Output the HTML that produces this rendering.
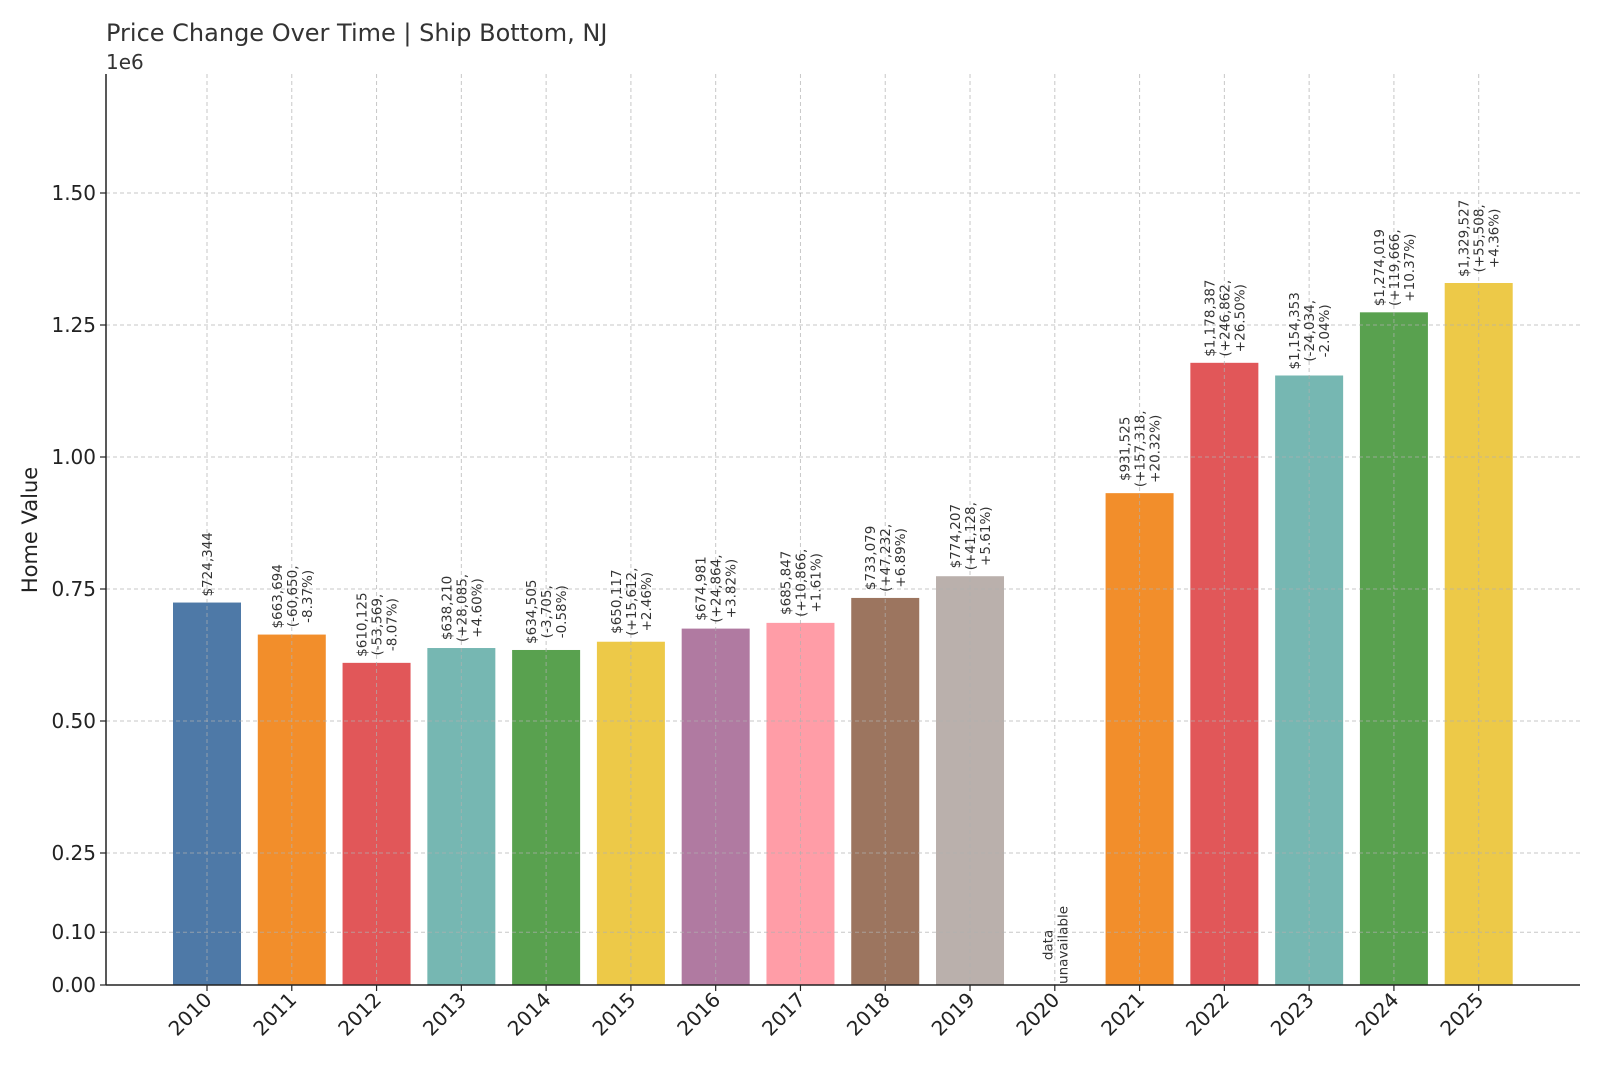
<!DOCTYPE html>
<html><head><meta charset="utf-8"><style>body{margin:0;background:#fff}svg{display:block;font-family:"DejaVu Sans","Liberation Sans",sans-serif}</style></head>
<body>
<svg id="chart" width="1600" height="1067" xmlns="http://www.w3.org/2000/svg">
<text x="106" y="41" font-size="24" fill="#333">Price Change Over Time | Ship Bottom, NJ</text>
<text x="106" y="69" font-size="20" fill="#333">1e6</text>
<text transform="translate(37,530) rotate(-90)" text-anchor="middle" font-size="21" fill="#222">Home Value</text>
<g id="bars"></g><g id="grid"></g><g id="labels"></g><g id="axes"></g>
</svg>
<script>
const years=["2010","2011","2012","2013","2014","2015","2016","2017","2018","2019","2020","2021","2022","2023","2024","2025"];
const values=[724344,663694,610125,638210,634505,650117,674981,685847,733079,774207,null,931525,1178387,1154353,1274019,1329527];
const changes=["","(-60,650,","(-53,569,","(+28,085,","(-3,705,","(+15,612,","(+24,864,","(+10,866,","(+47,232,","(+41,128,","","(+157,318,","(+246,862,","(-24,034,","(+119,666,","(+55,508,"];
const pcts=["","-8.37%)","-8.07%)","+4.60%)","-0.58%)","+2.46%)","+3.82%)","+1.61%)","+6.89%)","+5.61%)","","+20.32%)","+26.50%)","-2.04%)","+10.37%)","+4.36%)"];
const yTicks=[0,0.1,0.25,0.5,0.75,1.0,1.25,1.5];
const yTickLabels=["0.00","0.10","0.25","0.50","0.75","1.00","1.25","1.50"];
const colors=["#4e79a7","#f28e2b","#e15759","#76b7b2","#59a14f","#edc948","#b07aa1","#ff9da7","#9c755f","#bab0ac"];
const NS="http://www.w3.org/2000/svg";
const L=106,R=1580,T=74,B=985;
const yS=v=>B-v/1e6*528;
const xS=i=>207+i*84.78;
const bw=68;
function mk(tag,attrs,parent){const e=document.createElementNS(NS,tag);for(const k in attrs)e.setAttribute(k,attrs[k]);parent.appendChild(e);return e;}
const gB=document.getElementById('bars'),gG=document.getElementById('grid'),gL=document.getElementById('labels'),gA=document.getElementById('axes');
values.forEach((v,i)=>{
 if(v===null)return;
 const r=mk('rect',{x:xS(i)-bw/2,y:yS(v),width:bw,height:B-yS(v),fill:colors[i%10]},gB);
 
 
});
years.forEach((y,i)=>{
 const l=mk('line',{x1:xS(i),x2:xS(i),y1:T,y2:B,stroke:"#b0b0b0","stroke-width":1,"stroke-dasharray":"4,3",opacity:0.7},gG);
 
 
});
yTicks.forEach((t,i)=>{
 const l=mk('line',{x1:L,x2:R,y1:yS(t*1e6),y2:yS(t*1e6),stroke:"#b0b0b0","stroke-width":1,"stroke-dasharray":"4,3",opacity:0.7},gG);
 
 
 const tk=mk('line',{x1:L-6,x2:L,y1:yS(t*1e6),y2:yS(t*1e6),stroke:"#222","stroke-width":1.2},gA);
 
 
 const tx=mk('text',{x:L-10,y:yS(t*1e6)+7,"text-anchor":"end","font-size":20,fill:"#222"},gA);
 tx.textContent=yTickLabels[i];
 
 
});
years.forEach((y,i)=>{
 const tk=mk('line',{x1:xS(i),x2:xS(i),y1:B,y2:B+6,stroke:"#222","stroke-width":1.2},gA);
 
 
 const tx=mk('text',{transform:`translate(${xS(i)+6},${B+16}) rotate(-45)`,"text-anchor":"end","font-size":20,fill:"#222"},gA);
 tx.textContent=y;
 
 
});
function block(lines,cx,bottom,name){
 const g=mk('g',{},gL);
 
 
 const ts=lines.map((s,k)=>{const t=mk('text',{"font-size":13.5,fill:"#333","text-anchor":"middle"},g);t.textContent=s;return t;});
 const maxLen=Math.max(...ts.map(t=>t.getComputedTextLength()));
 const n=lines.length,lh=15;
 ts.forEach((t,k)=>{
  const x=cx-(n-1)*lh/2+k*lh+5;
  const yc=bottom-maxLen/2;
  t.setAttribute('transform',`translate(${x},${yc}) rotate(-90)`);
 });
}
values.forEach((v,i)=>{
 if(v===null){block(["data","unavailable"],xS(i),B-1,'label-'+years[i]);return;}
 const lines=["$"+v.toLocaleString('en-US')];
 if(changes[i])lines.push(changes[i],pcts[i]);
 block(lines,xS(i),yS(v)-6,'label-'+years[i]);
});
const ax1=mk('line',{x1:L,x2:L,y1:T,y2:B,stroke:"#222","stroke-width":1.5},gA);


const ax2=mk('line',{x1:L,x2:R,y1:B,y2:B,stroke:"#222","stroke-width":1.5},gA);


</script>
</body></html>
